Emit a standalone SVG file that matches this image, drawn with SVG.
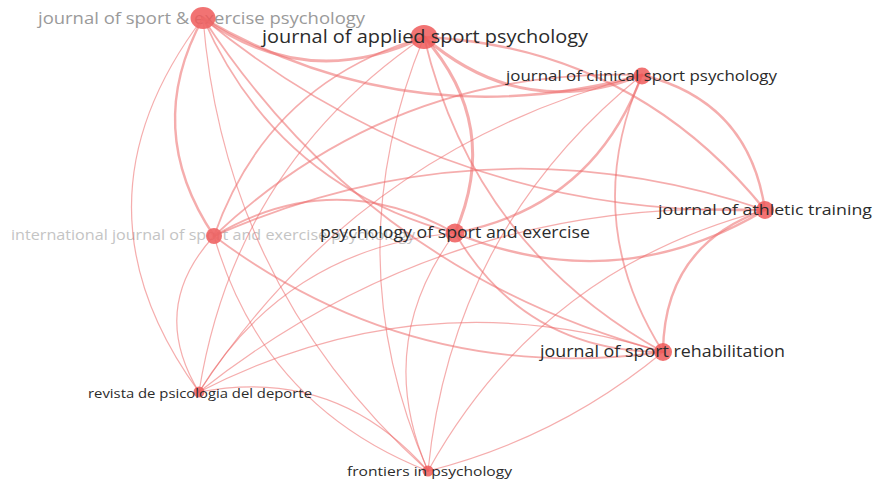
<svg xmlns="http://www.w3.org/2000/svg" width="873" height="485" viewBox="0 0 873 485">
<style>
.e{fill:none;stroke:#ec6a6a;stroke-opacity:0.55;stroke-linecap:round}
.w3{stroke-width:3}
.w25{stroke-width:2.4}
.w2{stroke-width:1.8}
.w1{stroke-width:1.2}
.n{fill:#ee5a5a;fill-opacity:0.85}
.t{font-family:"Open Sans","Noto Sans","DejaVu Sans",sans-serif;text-anchor:middle;fill:#2b2b2b}
.fade1{fill:#9a9a9a}
.fade2{fill:#c4c4c4}
</style>
<rect width="873" height="485" fill="#ffffff"/>
<g id="node-jsep">
<text class="t fade1" x="201.5" y="24" font-size="16" textLength="327" lengthAdjust="spacingAndGlyphs">journal of sport &amp; exercise psychology</text>
<ellipse class="n" cx="203" cy="18" rx="12.5" ry="11"/>
</g>
<g id="node-ijsep">
<text class="t fade2" x="213" y="240" font-size="14" textLength="404" lengthAdjust="spacingAndGlyphs">international journal of sport and exercise psychology</text>
<circle class="n" cx="214" cy="236" r="8"/>
</g>
<g id="connectors">
<path class="e w2" d="M203 18 Q277 186 455 233"/>
<path class="e w2" d="M203 18 Q448 219 765 210"/>
<path class="e w3" d="M203 18 Q307 93 424 37"/>
<path class="e w25" d="M203 18 Q410 138 642 75"/>
<path class="e w25" d="M203 18 Q142 129 214 236"/>
<path class="e w2" d="M203 18 Q369 272 663 352"/>
<path class="e w1" d="M203 18 Q225 289 428 471"/>
<path class="e w1" d="M203 18 Q62 204 199 392"/>
<path class="e w25" d="M455 233 Q616 299 765 210"/>
<path class="e w3" d="M455 233 Q502 125 424 37"/>
<path class="e w25" d="M455 233 Q593 207 642 75"/>
<path class="e w2" d="M455 233 Q334 165 214 236"/>
<path class="e w2" d="M455 233 Q525 352 663 352"/>
<path class="e w1" d="M455 233 Q373 344 428 471"/>
<path class="e w1" d="M455 233 Q287 248 199 392"/>
<path class="e w25" d="M765 210 Q633 47 424 37"/>
<path class="e w25" d="M765 210 Q749 101 642 75"/>
<path class="e w2" d="M765 210 Q485 116 214 236"/>
<path class="e w25" d="M765 210 Q664 245 663 352"/>
<path class="e w1" d="M765 210 Q541 268 428 471"/>
<path class="e w1" d="M765 210 Q448 195 199 392"/>
<path class="e w3" d="M424 37 Q522 122 642 75"/>
<path class="e w2" d="M424 37 Q268 82 214 236"/>
<path class="e w2" d="M424 37 Q474 247 663 352"/>
<path class="e w1" d="M424 37 Q334 255 428 471"/>
<path class="e w1" d="M424 37 Q235 166 199 392"/>
<path class="e w2" d="M642 75 Q395 66 214 236"/>
<path class="e w2" d="M642 75 Q579 219 663 352"/>
<path class="e w1" d="M642 75 Q452 228 428 471"/>
<path class="e w1" d="M642 75 Q359 148 199 392"/>
<path class="e w2" d="M214 236 Q414 386 663 352"/>
<path class="e w1" d="M214 236 Q263 406 428 471"/>
<path class="e w1" d="M214 236 Q148 308 199 392"/>
<path class="e w1" d="M663 352 Q559 438 428 471"/>
<path class="e w1" d="M663 352 Q423 277 199 392"/>
<path class="e w1" d="M428 471 Q336 366 199 392"/>
</g>
<g id="node-jasp">
<ellipse class="n" cx="424" cy="37" rx="13.5" ry="12"/>
<text class="t" x="425" y="43" font-size="17.5" textLength="326" lengthAdjust="spacingAndGlyphs">journal of applied sport psychology</text>
</g>
<g id="node-jcsp">
<circle class="n" cx="642" cy="76" r="8.5"/>
<text class="t" x="641.5" y="81" font-size="14.5" textLength="271" lengthAdjust="spacingAndGlyphs">journal of clinical sport psychology</text>
</g>
<g id="node-jat">
<circle class="n" cx="765" cy="210" r="9"/>
<text class="t" x="765" y="215" font-size="15" textLength="214" lengthAdjust="spacingAndGlyphs">journal of athletic training</text>
</g>
<g id="node-pse">
<circle class="n" cx="455" cy="233" r="9.5"/>
<text class="t" x="455" y="238" font-size="16" textLength="270" lengthAdjust="spacingAndGlyphs">psychology of sport and exercise</text>
</g>
<g id="node-jsr">
<circle class="n" cx="663" cy="352" r="9"/>
<text class="t" x="662.5" y="357" font-size="15.5" textLength="245" lengthAdjust="spacingAndGlyphs">journal of sport rehabilitation</text>
</g>
<g id="node-revista">
<circle class="n" cx="199" cy="392" r="5.5"/>
<text class="t" x="200" y="398" font-size="13" textLength="224" lengthAdjust="spacingAndGlyphs">revista de psicologia del deporte</text>
</g>
<g id="node-frontiers">
<circle class="n" cx="428" cy="471" r="5.5"/>
<text class="t" x="429.5" y="476" font-size="13.5" textLength="165" lengthAdjust="spacingAndGlyphs">frontiers in psychology</text>
</g>
</svg>
